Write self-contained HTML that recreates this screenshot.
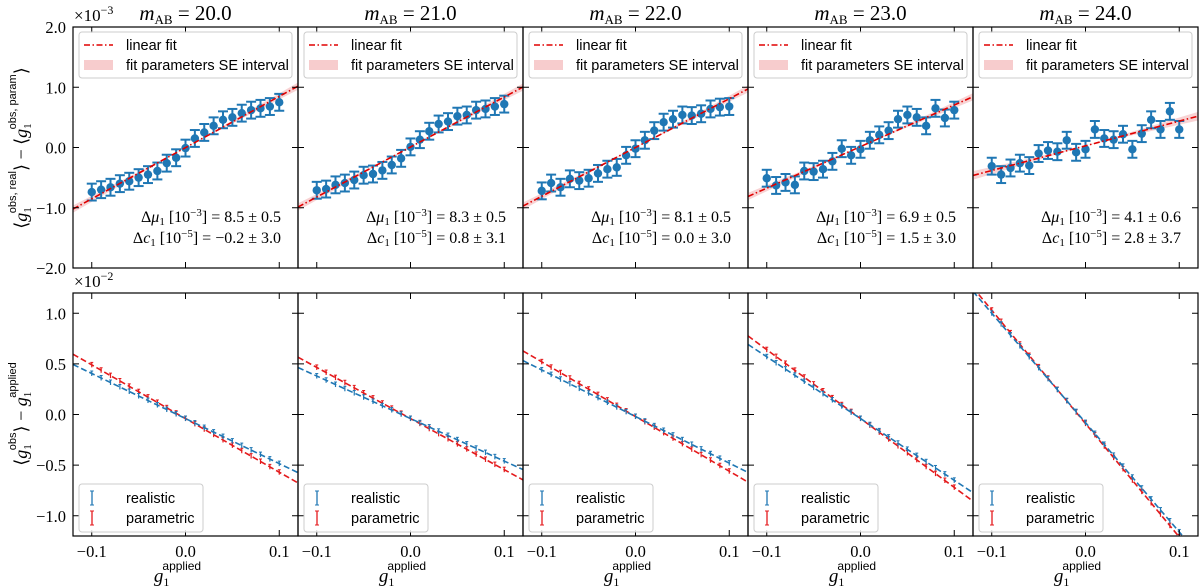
<!DOCTYPE html>
<html><head><meta charset="utf-8">
<style>
html,body{margin:0;padding:0;background:#fff;}
svg{display:block;}
.serif{font-family:"Liberation Serif","DejaVu Serif",serif;}
.sans{font-family:"Liberation Sans","DejaVu Sans",sans-serif;}
</style></head>
<body>
<svg id="fig" width="1200" height="588" viewBox="0 0 1200 588" xmlns="http://www.w3.org/2000/svg"></svg>
<script>
// ---- data ----
const mags = ["20.0","21.0","22.0","23.0","24.0"];
const gApplied = [-0.1,-0.09,-0.08,-0.07,-0.06,-0.05,-0.04,-0.03,-0.02,-0.01,0,0.01,0.02,0.03,0.04,0.05,0.06,0.07,0.08,0.09,0.1];
const diffP1 = [-0.74,-0.70,-0.66,-0.60,-0.56,-0.50,-0.45,-0.39,-0.26,-0.17,-0.01,0.15,0.25,0.36,0.46,0.50,0.57,0.62,0.65,0.68,0.75];
const diffP2 = [-0.71,-0.69,-0.62,-0.59,-0.54,-0.46,-0.44,-0.38,-0.29,-0.18,0.01,0.13,0.27,0.39,0.43,0.52,0.54,0.62,0.64,0.68,0.72];
const diffP3 = [-0.72,-0.59,-0.66,-0.52,-0.55,-0.51,-0.43,-0.36,-0.33,-0.13,-0.02,0.12,0.28,0.42,0.47,0.54,0.53,0.56,0.64,0.67,0.68];
const diffP4 = [-0.51,-0.63,-0.58,-0.62,-0.39,-0.40,-0.36,-0.23,-0.02,-0.13,-0.03,0.12,0.21,0.28,0.47,0.54,0.50,0.36,0.65,0.49,0.62];
const diffP5 = [-0.31,-0.45,-0.34,-0.26,-0.30,-0.10,-0.05,-0.07,0.12,-0.08,-0.03,0.30,0.15,0.13,0.22,-0.03,0.23,0.46,0.30,0.60,0.30];
const diffErr = [0.14,0.14,0.14,0.14,0.14];
const fitSlope = [8.5,8.3,8.1,6.9,4.1];
const fitSlopeErr = [0.5,0.5,0.5,0.5,0.6];
const fitIntercept = [-0.002,0.008,0.0,0.015,0.028];
const fitMuText = ["8.5 ± 0.5","8.3 ± 0.5","8.1 ± 0.5","6.9 ± 0.5","4.1 ± 0.6"];
const fitCText = ["−0.2 ± 3.0","0.8 ± 3.1","0.0 ± 3.0","1.5 ± 3.0","2.8 ± 3.7"];
const realSlope = [-4.45,-4.2,-4.6,-6.1,-10.8];
const realIntercept = [-0.04,-0.04,-0.02,-0.04,-0.08];
const paramSlope = [-5.3,-5.05,-5.4,-6.8,-11.2];
const paramIntercept = [-0.04,-0.04,-0.02,-0.04,-0.09];
const topTicks = [-2.0,-1.0,0.0,1.0,2.0];
const topTickLabels = ["−2.0","−1.0","0.0","1.0","2.0"];
const botTicks = [-1.0,-0.5,0.0,0.5,1.0];
const botTickLabels = ["−1.0","−0.5","0.0","0.5","1.0"];
const xTicks = [-0.1,0.0,0.1];
const xTickLabels = ["−0.1","0.0","0.1"];

const diffs=[diffP1,diffP2,diffP3,diffP4,diffP5];
const NS="http://www.w3.org/2000/svg";
const svg=document.getElementById('fig');
function mk(tag,attrs,parent){const e=document.createElementNS(NS,tag);for(const k in attrs)e.setAttribute(k,attrs[k]);(parent||svg).appendChild(e);return e;}

const L0=73, PW=225, TT=27, TB=268, BT=293, BB=536;
const XMIN=-0.12, XMAX=0.12;
function xs(i,v){return L0+i*PW+(v-XMIN)/(XMAX-XMIN)*PW;}
function yt(v){return TB-(v+2)/4*(TB-TT);}
function yb(v){return BB-(v+1.2)/2.4*(BB-BT);}
const BLUE="#1f77b4", RED="#e41a1c";

for(let i=0;i<5;i++){
  const left=L0+i*PW, right=left+PW;
  const gt=mk('g',{});
  
  
  const cp='ct'+i;
  const c=mk('clipPath',{id:cp},gt);mk('rect',{x:left,y:TT,width:PW,height:TB-TT},c);
  const gc=mk('g',{'clip-path':'url(#'+cp+')'},gt);
  const s=fitSlope[i], se=fitSlopeErr[i], b=fitIntercept[i];
  const pts=[[XMIN,(s+se)*XMIN+b],[XMAX,(s+se)*XMAX+b],[XMAX,(s-se)*XMAX+b],[XMIN,(s-se)*XMIN+b]];
  const band=mk('polygon',{points:pts.map(p=>xs(i,p[0])+','+yt(p[1])).join(' '),fill:'#f4b6b8',opacity:0.6},gc);
  
  
  const d=diffs[i], e=diffErr[i];
  for(let k=0;k<gApplied.length;k++){
    const x=xs(i,gApplied[k]), y=yt(d[k]), y1=yt(d[k]+e), y2=yt(d[k]-e);
    mk('line',{x1:x,x2:x,y1:y1,y2:y2,stroke:BLUE,'stroke-width':2},gc);
    mk('line',{x1:x-5,x2:x+5,y1:y1,y2:y1,stroke:BLUE,'stroke-width':2},gc);
    mk('line',{x1:x-5,x2:x+5,y1:y2,y2:y2,stroke:BLUE,'stroke-width':2},gc);
    const pt=mk('circle',{cx:x,cy:y,r:4.2,fill:BLUE},gc);
    
    
  }
  const fl=mk('line',{x1:xs(i,XMIN),y1:yt(s*XMIN+b),x2:xs(i,XMAX),y2:yt(s*XMAX+b),stroke:'#e00000','stroke-width':1.6,'stroke-dasharray':'6,2.5,1.5,2.5'},gc);
  
  
  mk('rect',{x:left,y:TT,width:PW,height:TB-TT,fill:'none',stroke:'#000','stroke-width':1.2},gt);
  for(const t of xTicks){const x=xs(i,t);mk('line',{x1:x,x2:x,y1:TT,y2:TT+6,stroke:'#000'},gt);mk('line',{x1:x,x2:x,y1:TB,y2:TB-6,stroke:'#000'},gt);}
  for(const t of topTicks){const y=yt(t);mk('line',{x1:left,x2:left+6,y1:y,y2:y,stroke:'#000'},gt);mk('line',{x1:right,x2:right-6,y1:y,y2:y,stroke:'#000'},gt);}
  const lg=mk('g',{},gt);
  
  
  mk('rect',{x:left+6,y:32,width:PW-12,height:46,rx:3,fill:'#fff','fill-opacity':0.85,stroke:'#ccc'},lg);
  mk('line',{x1:left+11,x2:left+40,y1:45,y2:45,stroke:'#e00000','stroke-width':1.6,'stroke-dasharray':'6,2.5,1.5,2.5'},lg);
  mk('rect',{x:left+11,y:60,width:29,height:10,fill:'#f4b6b8',opacity:0.7},lg);
  const t1=mk('text',{x:left+53,y:50,'font-size':14.5,class:'sans'},lg);t1.textContent='linear fit';
  const t2=mk('text',{x:left+53,y:70,'font-size':14.5,class:'sans'},lg);t2.textContent='fit parameters SE interval';
  const a1=mk('text',{x:right-17,y:222,'font-size':16,class:'serif','text-anchor':'end'},gt);
  
  
  a1.innerHTML='Δ<tspan font-style="italic">μ</tspan><tspan font-size="11" dy="3">1</tspan><tspan dy="-3"> [10</tspan><tspan font-size="11" dy="-6">−3</tspan><tspan dy="6">] = '+fitMuText[i]+'</tspan>';
  const a2=mk('text',{x:right-17,y:243,'font-size':16,class:'serif','text-anchor':'end'},gt);
  
  
  a2.innerHTML='Δ<tspan font-style="italic">c</tspan><tspan font-size="11" dy="3">1</tspan><tspan dy="-3"> [10</tspan><tspan font-size="11" dy="-6">−5</tspan><tspan dy="6">] = '+fitCText[i]+'</tspan>';
  const tt=mk('text',{x:left+PW/2,y:20,'font-size':21,class:'serif','text-anchor':'middle'});
  
  
  tt.innerHTML='<tspan font-style="italic">m</tspan><tspan font-size="13" dy="4">AB</tspan><tspan dy="-4"> = '+mags[i]+'</tspan>';

  const gb=mk('g',{});
  
  
  const cb='cb'+i;
  const c2=mk('clipPath',{id:cb},gb);mk('rect',{x:left,y:BT,width:PW,height:BB-BT},c2);
  const gc2=mk('g',{'clip-path':'url(#'+cb+')'},gb);
  const series=[[paramSlope[i],paramIntercept[i],RED,'parametric-fit-line'],[realSlope[i],realIntercept[i],BLUE,'realistic-fit-line']];
  for(const [m,q,col,nm] of series){
    for(let k=0;k<gApplied.length;k++){
      const x=xs(i,gApplied[k]), y=yb(m*gApplied[k]+q);
      mk('line',{x1:x,x2:x,y1:y-2.5,y2:y+2.5,stroke:col,'stroke-width':1.2},gc2);
      mk('line',{x1:x-1.5,x2:x+1.5,y1:y-2.5,y2:y-2.5,stroke:col,'stroke-width':1},gc2);
    }
    const ln=mk('line',{x1:xs(i,XMIN),y1:yb(m*XMIN+q),x2:xs(i,XMAX),y2:yb(m*XMAX+q),stroke:col,'stroke-width':1.6,'stroke-dasharray':'6,3'},gc2);
    
    
  }
  mk('rect',{x:left,y:BT,width:PW,height:BB-BT,fill:'none',stroke:'#000','stroke-width':1.2},gb);
  xTicks.forEach((t,j)=>{const x=xs(i,t);mk('line',{x1:x,x2:x,y1:BT,y2:BT+6,stroke:'#000'},gb);mk('line',{x1:x,x2:x,y1:BB,y2:BB-6,stroke:'#000'},gb);
    const tl=mk('text',{x:x,y:BB+21,'font-size':16.5,class:'serif','text-anchor':'middle'},gb);tl.textContent=xTickLabels[j];});
  for(const t of botTicks){const y=yb(t);mk('line',{x1:left,x2:left+6,y1:y,y2:y,stroke:'#000'},gb);mk('line',{x1:right,x2:right-6,y1:y,y2:y,stroke:'#000'},gb);}
  const bl=mk('g',{},gb);
  
  
  mk('rect',{x:left+6,y:484,width:124,height:48,rx:3,fill:'#fff','fill-opacity':0.85,stroke:'#ccc'},bl);
  [[BLUE,'realistic',498],[RED,'parametric',518]].forEach(([col,lab,yy])=>{
    mk('line',{x1:left+19,x2:left+19,y1:yy-7,y2:yy+7,stroke:col,'stroke-width':1.3},bl);
    mk('line',{x1:left+17,x2:left+21,y1:yy-7,y2:yy-7,stroke:col},bl);
    mk('line',{x1:left+17,x2:left+21,y1:yy+7,y2:yy+7,stroke:col},bl);
    const tx=mk('text',{x:left+53,y:yy+5,'font-size':14.5,class:'sans'},bl);tx.textContent=lab;
  });
  const xl=mk('text',{x:left+PW/2-8,y:582,'font-size':19,class:'serif','text-anchor':'middle'});
  
  
  xl.innerHTML='<tspan font-style="italic">g</tspan><tspan font-size="12" dy="4">1</tspan><tspan font-size="12" dx="-7" dy="-16" font-family="Liberation Sans">applied</tspan>';
}
topTicks.forEach((t,j)=>{const tl=mk('text',{x:66,y:yt(t)+6,'font-size':16.5,class:'serif','text-anchor':'end'});tl.textContent=topTickLabels[j];});
botTicks.forEach((t,j)=>{const tl=mk('text',{x:66,y:yb(t)+6,'font-size':16.5,class:'serif','text-anchor':'end'});tl.textContent=botTickLabels[j];});
const o1=mk('text',{x:74,y:21,'font-size':17,class:'serif'});o1.innerHTML='×10<tspan font-size="12" dy="-7">−3</tspan>';


const o2=mk('text',{x:74,y:287,'font-size':17,class:'serif'});o2.innerHTML='×10<tspan font-size="12" dy="-7">−2</tspan>';


const y1=mk('text',{x:0,y:0,'font-size':18,class:'serif','text-anchor':'middle',transform:'translate(27,148) rotate(-90)'});


y1.innerHTML='⟨<tspan font-style="italic">g</tspan><tspan font-size="11" dy="4">1</tspan><tspan font-size="11" dx="-6" dy="-15" font-family="Liberation Sans">obs, real</tspan><tspan dy="11">⟩ − ⟨</tspan><tspan font-style="italic">g</tspan><tspan font-size="11" dy="4">1</tspan><tspan font-size="11" dx="-6" dy="-15" font-family="Liberation Sans">obs, param</tspan><tspan dy="11">⟩</tspan>';
const y2=mk('text',{x:0,y:0,'font-size':18,class:'serif','text-anchor':'middle',transform:'translate(27,414) rotate(-90)'});


y2.innerHTML='⟨<tspan font-style="italic">g</tspan><tspan font-size="11" dy="4">1</tspan><tspan font-size="11" dx="-6" dy="-15" font-family="Liberation Sans">obs</tspan><tspan dy="11">⟩ − </tspan><tspan font-style="italic">g</tspan><tspan font-size="11" dy="4">1</tspan><tspan font-size="11" dx="-6" dy="-15" font-family="Liberation Sans">applied</tspan>';
</script>
</body></html>
